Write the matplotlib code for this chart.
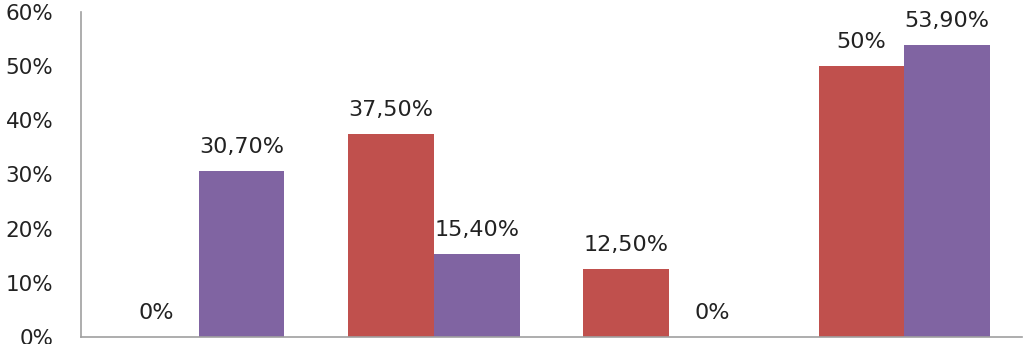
import numpy as np
import matplotlib
matplotlib.use("Agg")
import matplotlib.pyplot as plt
from matplotlib.ticker import FuncFormatter

# values in percent
groups = ["A", "B", "C", "D"]
red_vals = [0.0, 37.5, 12.5, 50.0]
purple_vals = [30.7, 15.4, 0.0, 53.9]
red_labels = ["0%", "37,50%", "12,50%", "50%"]
purple_labels = ["30,70%", "15,40%", "0%", "53,90%"]
yticks = [0, 10, 20, 30, 40, 50, 60]

fig = plt.figure(figsize=(10.24, 3.44), dpi=100)
ax = fig.add_axes([81 / 1024, 7 / 344, (1022 - 81) / 1024, (337 - 12) / 344])

x = np.arange(len(groups))
w = 0.364
b1 = ax.bar(x - w / 2, red_vals, w, color="#C0504D")
b2 = ax.bar(x + w / 2, purple_vals, w, color="#8064A2")

for bars, labs in ((b1, red_labels), (b2, purple_labels)):
    for bar, lab in zip(bars, labs):
        ax.annotate(lab, (bar.get_x() + bar.get_width() / 2, bar.get_height()),
                    xytext=(0, 13), textcoords="offset points",
                    ha="center", va="baseline", fontsize=16, color="#222222")

ax.set_xlim(-0.5, len(groups) - 0.5)
ax.set_ylim(0, 60)
ax.set_yticks(yticks)
ax.yaxis.set_major_formatter(FuncFormatter(lambda v, p: f"{v:.0f}%"))
ax.set_xticks([])
ax.tick_params(axis="y", length=0, pad=20, labelsize=15.5, labelcolor="#222222")

for s in ("top", "right"):
    ax.spines[s].set_visible(False)
for s in ("left", "bottom"):
    ax.spines[s].set_color("#A0A0A0")
    ax.spines[s].set_linewidth(1.2)

fig.savefig("out.png", dpi=100)
